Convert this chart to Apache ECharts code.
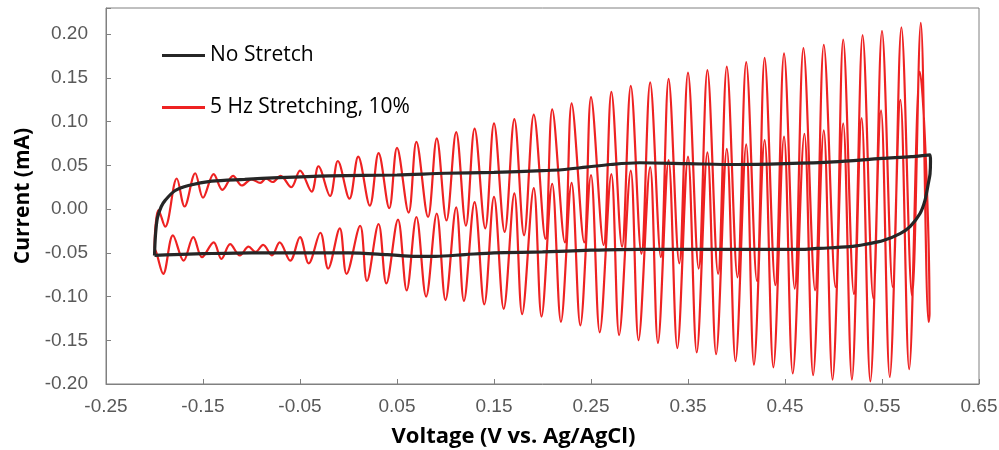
<!DOCTYPE html>
<html>
<head>
<meta charset="utf-8">
<script src="https://cdn.jsdelivr.net/npm/echarts@6/dist/echarts.min.js"></script>
<style>
html,body{margin:0;padding:0;background:#fff;}
#chart{width:999px;height:450px;}
</style>
</head>
<body>
<div id="chart"></div>
<script>
// ---- Data (voltage V vs. Ag/AgCl, current mA) ----
const xTickLabels = ['-0.25','-0.15','-0.05','0.05','0.15','0.25','0.35','0.45','0.55','0.65'];
const yTickLabels = ['-0.20','-0.15','-0.10','-0.05','0.00','0.05','0.10','0.15','0.20'];

// No Stretch: forward (upper) branch
const noStretchFwd = [
  [-0.200,-0.053],[-0.199,-0.030],[-0.197,-0.010],[-0.193,0.003],[-0.189,0.010],[-0.179,0.021],
  [-0.165,0.027],[-0.141,0.032],[-0.107,0.034],[-0.072,0.036],[-0.020,0.038],[0.050,0.039],
  [0.100,0.041],[0.150,0.042],[0.200,0.044],[0.220,0.045],[0.245,0.048],[0.270,0.051],
  [0.300,0.053],[0.350,0.052],[0.400,0.051],[0.450,0.052],[0.500,0.054],[0.550,0.058],
  [0.580,0.060],[0.5995,0.062]
];
// No Stretch: reverse (lower) branch
const noStretchRev = [
  [0.600,0.055],[0.5995,0.040],[0.5977,0.029],[0.5943,0.010],[0.5892,-0.005],[0.5789,-0.020],
  [0.5686,-0.028],[0.5513,-0.036],[0.5342,-0.040],[0.517,-0.043],[0.483,-0.045],[0.466,-0.046],
  [0.400,-0.046],[0.350,-0.046],[0.300,-0.046],[0.250,-0.047],[0.200,-0.049],[0.150,-0.050],
  [0.120,-0.052],[0.090,-0.054],[0.070,-0.054],[0.040,-0.052],[0.000,-0.050],[-0.050,-0.050],
  [-0.100,-0.050],[-0.150,-0.051],[-0.180,-0.052],[-0.200,-0.053]
];

// 5 Hz Stretching, 10%: forward branch (peaks and troughs)
const stretchFwd = [
  [-0.200,-0.045],[-0.199,-0.020],[-0.196,-0.001],[-0.189,-0.020],[-0.177,0.035],[-0.169,0.003],
  [-0.158,0.041],[-0.150,0.013],[-0.139,0.040],[-0.130,0.022],[-0.119,0.038],[-0.110,0.027],
  [-0.100,0.034],[-0.091,0.030],[-0.085,0.035],[-0.078,0.031],[-0.070,0.038],[-0.059,0.025],
  [-0.050,0.044],[-0.038,0.020],[-0.031,0.049],[-0.019,0.015],[-0.011,0.055],[0.001,0.012],
  [0.010,0.060],[0.022,0.004],[0.031,0.064],[0.042,0.001],[0.050,0.070],[0.062,-0.004],
  [0.070,0.077],[0.082,-0.009],[0.091,0.081],[0.101,-0.013],[0.111,0.088],[0.121,-0.019],
  [0.130,0.092],[0.141,-0.022],[0.150,0.098],[0.161,-0.026],[0.171,0.103],[0.181,-0.030],
  [0.191,0.108],[0.203,-0.034],[0.210,0.114],[0.223,-0.038],[0.230,0.121],[0.243,-0.038],
  [0.250,0.128],[0.263,-0.041],[0.271,0.134],[0.282,-0.043],[0.291,0.141],[0.302,-0.051],
  [0.311,0.145],[0.322,-0.055],[0.330,0.149],[0.341,-0.062],[0.350,0.156],[0.361,-0.068],
  [0.370,0.159],[0.381,-0.074],[0.390,0.163],[0.401,-0.078],[0.410,0.168],[0.421,-0.082],
  [0.429,0.173],[0.440,-0.087],[0.449,0.178],[0.460,-0.091],[0.469,0.184],[0.481,-0.093],
  [0.490,0.188],[0.502,-0.089],[0.510,0.194],[0.521,-0.097],[0.530,0.199],[0.541,-0.102],
  [0.550,0.204],[0.561,-0.089],[0.570,0.208],[0.581,-0.100],[0.590,0.213],[0.598,-0.129]
];
// 5 Hz Stretching, 10%: reverse branch
const stretchRev = [
  [0.599,-0.120],[0.589,0.157],[0.578,-0.183],[0.569,0.125],[0.558,-0.192],[0.549,0.113],
  [0.538,-0.197],[0.529,0.104],[0.519,-0.195],[0.510,0.098],[0.499,-0.195],[0.490,0.090],
  [0.479,-0.190],[0.470,0.086],[0.458,-0.188],[0.449,0.083],[0.438,-0.181],[0.429,0.079],
  [0.418,-0.178],[0.410,0.074],[0.399,-0.174],[0.390,0.069],[0.379,-0.166],[0.370,0.065],
  [0.359,-0.164],[0.350,0.060],[0.339,-0.159],[0.330,0.056],[0.319,-0.153],[0.311,0.048],
  [0.299,-0.150],[0.291,0.044],[0.279,-0.144],[0.271,0.040],[0.259,-0.141],[0.250,0.039],
  [0.239,-0.133],[0.230,0.030],[0.219,-0.129],[0.210,0.029],[0.199,-0.123],[0.191,0.024],
  [0.179,-0.120],[0.171,0.018],[0.160,-0.114],[0.150,0.014],[0.140,-0.109],[0.130,0.008],
  [0.119,-0.105],[0.111,0.002],[0.100,-0.104],[0.091,-0.005],[0.080,-0.100],[0.070,-0.009],
  [0.060,-0.093],[0.051,-0.012],[0.039,-0.085],[0.031,-0.017],[0.019,-0.082],[0.012,-0.019],
  [-0.002,-0.074],[-0.009,-0.022],[-0.021,-0.068],[-0.029,-0.027],[-0.041,-0.062],[-0.050,-0.032],
  [-0.060,-0.059],[-0.071,-0.038],[-0.079,-0.053],[-0.088,-0.041],[-0.096,-0.049],[-0.103,-0.043],
  [-0.112,-0.053],[-0.122,-0.040],[-0.131,-0.057],[-0.139,-0.038],[-0.151,-0.055],[-0.160,-0.032],
  [-0.170,-0.059],[-0.181,-0.030],[-0.191,-0.074],[-0.198,-0.050],[-0.200,-0.045]
];

const seriesNames = ['No Stretch', '5 Hz Stretching, 10%'];
const xTitle = 'Voltage (V vs. Ag/AgCl)';
const yTitle = 'Current (mA)';

const chart = echarts.init(document.getElementById('chart'), null, {renderer: 'canvas'});
const tickFont = {fontFamily: 'Liberation Sans', fontSize: 19, color: '#595959'};
const titleFont = {fontFamily: 'Open Sans', fontSize: 22, fontWeight: 'bold', color: '#000'};

chart.setOption({
  animation: false,
  backgroundColor: '#fff',
  grid: {left: 106, right: 20, top: 8, bottom: 66, show: true, borderColor: '#808080', borderWidth: 1,
         containLabel: false, outerBoundsMode: 'none'},
  legend: {
    orient: 'vertical', left: 157, top: 40, itemWidth: 43, itemHeight: 3, itemGap: 31,
    icon: 'rect',
    data: seriesNames,
    textStyle: {fontFamily: 'Open Sans', fontSize: 21, color: '#000'}
  },
  xAxis: {
    type: 'value', min: -0.25, max: 0.65, interval: 0.1,
    name: xTitle, nameLocation: 'middle', nameGap: 42,
    nameTextStyle: Object.assign({}, titleFont, {padding: [0, 58, 0, 0]}),
    axisLine: {show: true, onZero: false, lineStyle: {color: '#808080', width: 1}},
    axisTick: {show: true, inside: true, length: 5, lineStyle: {color: '#808080'}},
    axisLabel: {margin: 13, formatter: (v, i) => xTickLabels[i] ?? '', ...tickFont},
    splitLine: {show: false}
  },
  yAxis: {
    type: 'value', min: -0.2, max: 0.23, interval: 0.05,
    name: yTitle, nameLocation: 'middle', nameGap: 72,
    nameTextStyle: Object.assign({}, titleFont, {fontSize: 21}),
    axisLine: {show: true, onZero: false, lineStyle: {color: '#808080', width: 1}},
    axisTick: {show: true, inside: true, length: 5, lineStyle: {color: '#808080'}},
    axisLabel: {margin: 18, formatter: (v, i) => yTickLabels[i] ?? '', ...tickFont},
    splitLine: {show: false}
  },
  series: [
    {
      name: seriesNames[1], type: 'line', symbol: 'none', smooth: 0.35, z: 2,
      data: stretchFwd.concat(stretchRev),
      lineStyle: {color: '#ee2222', width: 2.2}, itemStyle: {color: '#ee2222'}
    },
    {
      name: seriesNames[0], type: 'line', symbol: 'none', smooth: 0.3, z: 3,
      data: noStretchFwd.concat(noStretchRev),
      lineStyle: {color: '#262626', width: 3.2}, itemStyle: {color: '#262626'}
    }
  ]
});
</script>
</body>
</html>
